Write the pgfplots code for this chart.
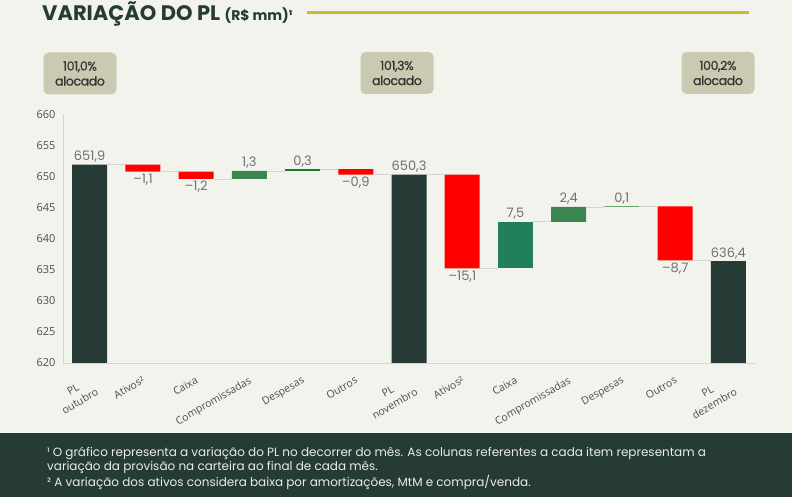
\documentclass[border=0pt]{standalone}
\usepackage{fontspec}
\setmainfont{Poppins}
\newfontfamily\tickfont{Open Sans}
\newfontfamily\boxfont[FakeBold=0.8, LetterSpace=-3]{Poppins}
\usepackage{pgfplots}
\usepackage{pgfplotstable}
\pgfplotsset{compat=1.18}

\definecolor{bg}{HTML}{F3F3EE}
\definecolor{darkpl}{HTML}{263B35}
\definecolor{negred}{HTML}{FF0000}
\definecolor{greenA}{HTML}{3A8550}
\definecolor{greenB}{HTML}{217F5B}
\definecolor{greenC}{HTML}{1F7A2E}
\definecolor{olive}{HTML}{C4BC2C}
\definecolor{boxfill}{HTML}{C9CAB1}
\definecolor{lbl}{HTML}{707070}
\definecolor{axisgray}{HTML}{D4D4D0}

% waterfall: invisible base + visible pieces
\pgfplotstableread{
x  base   tot    neg   posa  posb  posc
0  0      651.9  0     0     0     0
1  650.8  0      1.1   0     0     0
2  649.6  0      1.2   0     0     0
3  649.6  0      0     1.3   0     0
4  650.9  0      0     0     0     0.3
5  650.3  0      0.9   0     0     0
6  0      650.3  0     0     0     0
7  635.2  0      15.1  0     0     0
8  635.2  0      0     0     7.5   0
9  642.7  0      0     2.4   0     0
10 645.1  0      0     0     0     0.1
11 636.5  0      8.7   0     0     0
12 0      636.4  0     0     0     0
}\wf

\pgfplotstableread{
x  y      lab
0  651.9  651,9
3  650.9  1,3
4  651.2  0,3
6  650.3  650,3
8  642.7  7,5
9  645.1  2,4
10 645.2  0,1
12 636.4  636,4
}\above

\pgfplotstableread{
x  y      lab
1  650.8  –1,1
2  649.6  –1,2
5  650.3  –0,9
7  635.2  –15,1
11 636.5  –8,7
}\below

\begin{document}
\begin{tikzpicture}
\fill[bg] (0pt,0pt) rectangle (792pt,-497pt);

% title
\node[anchor=base west, inner sep=0pt, text=darkpl] at (42pt,-21pt)
  {\fontsize{21}{21}\selectfont\bfseries VARIAÇÃO DO PL\ {\fontsize{14}{14}\selectfont(R\$ mm)¹}};
\draw[olive, line width=3pt] (307pt,-13pt) -- (749pt,-13pt);

% allocation boxes
\tikzset{allocbox/.style={fill=boxfill, rounded corners=5pt, minimum width=73pt,
  minimum height=42pt, align=center, text=black!80, inner sep=0pt,
  font=\boxfont\fontsize{12.5}{15}\selectfont}}
\node[allocbox] at (80pt,-73.5pt) {101,0\%\\alocado};
\node[allocbox] at (397pt,-73pt) {101,3\%\\alocado};
\node[allocbox] at (718pt,-73pt) {100,2\%\\alocado};

\begin{axis}[
  at={(63pt,-363pt)}, anchor=south west,
  scale only axis, width=692pt, height=248.6pt,
  xmin=-0.5, xmax=12.5, ymin=620, ymax=660,
  ybar stacked, bar width=35pt,
  axis x line*=bottom, axis y line*=left,
  axis line style={draw=axisgray, line width=0.9pt, -},
  major tick length=0pt,
  ytick={620,625,...,660},
  /pgf/number format/assume math mode=true,
  yticklabel style={font=\tickfont\fontsize{11}{11}\selectfont, text=black!70, xshift=-4pt},
  xtick={0,...,12},
  xticklabels={{PL\\outubro},Ativos²,Caixa,Compromissadas,Despesas,Outros,{PL\\novembro},
               Ativos²,Caixa,Compromissadas,Despesas,Outros,{PL\\dezembro}},
  xticklabel style={font=\tickfont\fontsize{10.5}{14}\selectfont, text=black!70,
                    rotate=30, anchor=north east, align=center, yshift=-7pt, xshift=-4pt},
  axis on top,
]
\addplot[draw=none, fill=none] table[x=x, y=base] {\wf};
\addplot[draw=none, fill=darkpl] table[x=x, y=tot] {\wf};
\addplot[draw=none, fill=negred] table[x=x, y=neg] {\wf};
\addplot[draw=none, fill=greenA] table[x=x, y=posa] {\wf};
\addplot[draw=none, fill=greenB] table[x=x, y=posb] {\wf};
\addplot[draw=none, fill=greenC] table[x=x, y=posc] {\wf};
\end{axis}

\begin{axis}[
  at={(63pt,-363pt)}, anchor=south west,
  scale only axis, width=692pt, height=248.6pt,
  xmin=-0.5, xmax=12.5, ymin=620, ymax=660,
  hide axis, clip=false,
]
% connector lines
\addplot[draw=axisgray, line width=0.9pt, unbounded coords=jump] coordinates {
  (0.329,651.9) (0.671,651.9) (nan,nan)
  (1.329,650.8) (1.671,650.8) (nan,nan)
  (2.329,649.6) (2.671,649.6) (nan,nan)
  (3.329,650.9) (3.671,650.9) (nan,nan)
  (4.329,651.2) (4.671,651.2) (nan,nan)
  (5.329,650.3) (5.671,650.3) (nan,nan)
  (6.329,650.3) (6.671,650.3) (nan,nan)
  (7.329,635.2) (7.671,635.2) (nan,nan)
  (8.329,642.7) (8.671,642.7) (nan,nan)
  (9.329,645.1) (9.671,645.1) (nan,nan)
  (10.329,645.2) (10.671,645.2) (nan,nan)
  (11.329,636.5) (11.671,636.5)
};
\addplot[draw=none, nodes near coords, point meta=explicit symbolic,
  nodes near coords style={anchor=south, inner sep=2pt, text=lbl,
    font=\fontsize{13}{13}\selectfont}]
  table[x=x, y=y, meta=lab] {\above};
\addplot[draw=none, nodes near coords, point meta=explicit symbolic,
  nodes near coords style={anchor=north, inner sep=2pt, text=lbl,
    font=\fontsize{13}{13}\selectfont}]
  table[x=x, y=y, meta=lab] {\below};
\end{axis}

% footer
\fill[darkpl] (0pt,-433pt) rectangle (792pt,-497pt);
\begin{scope}[every node/.style={anchor=base west, inner sep=0pt, text=black!8,
    font=\fontsize{12}{12}\selectfont}]
\node at (47pt,-456pt) {¹ O gráfico representa a variação do PL no decorrer do mês. As colunas referentes a cada item representam a};
\node at (47pt,-470.5pt) {variação da provisão na carteira ao final de cada mês.};
\node at (47pt,-486pt) {² A variação dos ativos considera baixa por amortizações, MtM e compra/venda.};
\end{scope}
\end{tikzpicture}
\end{document}
